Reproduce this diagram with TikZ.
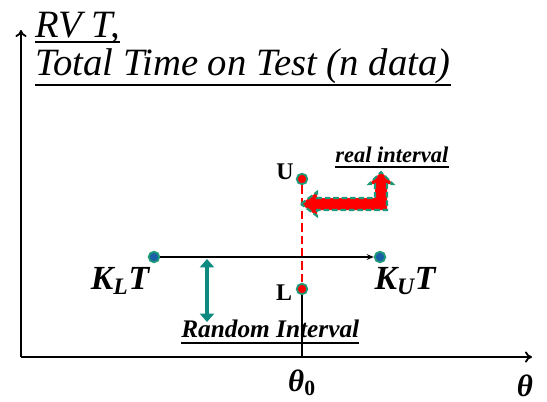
\documentclass[tikz,border=0pt]{standalone}
\usepackage{fontspec}
\setmainfont{Liberation Serif}
\usetikzlibrary{positioning,arrows.meta,calc}
\definecolor{dotGreen}{HTML}{1E9A78}
\definecolor{dotBlue}{HTML}{1A5FA8}
\definecolor{arrTeal}{HTML}{0E8A80}

\begin{document}
\begin{tikzpicture}[
    x=0.025cm, y=-0.025cm,
    axis/.style={line width=1.3pt, -{To[length=5pt,width=8pt]}},
    txt/.style={inner sep=0pt, anchor=base west},
    lbl/.style={inner sep=0pt, font=\fontsize{24}{28}\selectfont\bfseries\itshape},
    uline/.style={line width=1.6pt},
    dotpt/.style={circle, draw=dotGreen, line width=1.3pt, minimum size=7.5pt, inner sep=0pt}
  ]
  \useasboundingbox (0,0) rectangle (547,402);

  % Axes
  \coordinate (o) at (21,357);
  \coordinate (ytip) at (21,30);
  \coordinate (xtip) at (532,357);
  \draw[axis] (o)--(ytip);
  \draw[axis] (o)--(xtip);

  % Title
  \node[txt, font=\fontsize{27.5}{30}\selectfont\itshape] (t1) at (35,37) {RV T,};
  \node[txt, font=\fontsize{27.5}{30}\selectfont\itshape] (t2) at (35,75) {Total Time on Test (n data)};
  \draw[uline] ($(t1.base west)+(0,5)$)--($(t1.base east)+(0,5)$);
  \draw[uline] ($(t2.base west)+(0,10)$)--($(t2.base east)+(0,10)$);

  % Points
  \node[dotpt, fill=dotBlue] (kl) at (154,257) {};
  \node[dotpt, fill=dotBlue] (ku) at (380,257) {};
  \node[dotpt, fill=red] (up) at (302,179) {};
  \node[dotpt, fill=red] (lp) at (302,289) {};

  \node[inner sep=0pt, font=\fontsize{17}{19}\selectfont\bfseries] (ulab) at (285,172) {U};
  \node[inner sep=0pt, font=\fontsize{17}{19}\selectfont\bfseries] (llab) at (284,293) {L};
  \node[lbl] (kllab) at (120,281) {K\textsubscript{L}T};
  \node[lbl] (kulab) at (405,281) {K\textsubscript{U}T};
  \node[lbl, font=\fontsize{22}{26}\selectfont\bfseries\itshape] (th0) at (302,383) {θ\textsubscript{\upshape 0}};
  \node[lbl, font=\fontsize{22}{26}\selectfont\bfseries\itshape] (th) at (525,386) {θ};

  \draw[red, line width=1.3pt, dash pattern=on 6pt off 3pt] (up)--(lp);
  \draw[line width=0.8pt] (lp)--(lp |- o);
  \draw[line width=1pt, -{Stealth[length=5pt,width=4pt]}] (kl)--(ku);

  % Random interval
  \coordinate (ra1) at (207,259);
  \coordinate (ra2) at (207,322);
  \draw[arrTeal, line width=3pt, {Triangle[width=10pt,length=6pt]}-{Triangle[width=10pt,length=6pt]}] (ra1)--(ra2);
  \node[txt, font=\fontsize{18}{22}\selectfont\bfseries\itshape] (rnd) at (181,337) {Random Interval};
  \draw[uline] ($(rnd.base west)+(0,6)$)--($(rnd.base east)+(0,6)$);

  % Real interval
  \node[txt, font=\fontsize{16}{20}\selectfont\bfseries\itshape] (real) at (335,162) {real interval};
  \draw[uline] ($(real.base west)+(0,5)$)--($(real.base east)+(0,5)$);
  \filldraw[fill=red, draw=dotGreen, line width=1.5pt, dash pattern=on 4pt off 2pt]
    (301,204)--(317,192)--(317,198)--(375,198)--(375,184)--(369,184)--(381,172)
    --(393,184)--(387,184)--(387,210)--(317,210)--(317,216)--cycle;
\end{tikzpicture}
\end{document}
